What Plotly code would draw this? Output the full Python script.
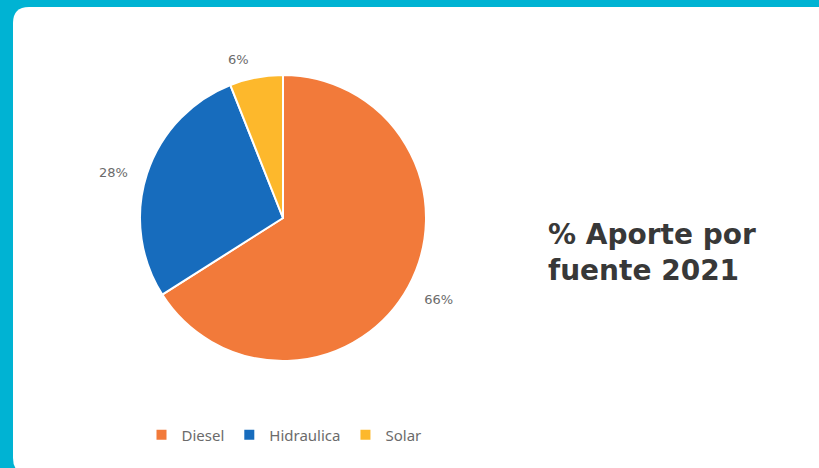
import plotly.graph_objects as go

categories = ["Diesel", "Hidraulica", "Solar"]
values = [66, 28, 6]
colors = ["#F27A3A", "#176CBD", "#FDB82C"]

W, H = 819, 468

def px(x):
    return x / W

def py(y):
    return 1 - y / H

CX, CY, R_PIE = 283, 218, 143
CX_L, CY_L, R_LBL = 282, 222, 158

fig = go.Figure()
# the pie itself
fig.add_trace(go.Pie(
    labels=categories,
    values=values,
    sort=False,
    direction="clockwise",
    rotation=0,
    marker=dict(colors=colors, line=dict(color="white", width=2)),
    textposition="none",
    hoverinfo="label+percent",
    domain=dict(x=[px(CX - R_PIE), px(CX + R_PIE)], y=[py(CY + R_PIE), py(CY - R_PIE)]),
    showlegend=True,
))
# transparent companion pie that carries the outside percentage labels
fig.add_trace(go.Pie(
    labels=categories,
    values=values,
    sort=False,
    direction="clockwise",
    rotation=0,
    marker=dict(colors=["rgba(0,0,0,0)"] * len(values), line=dict(width=0)),
    textposition="outside",
    texttemplate="%{percent:.0%}",
    textfont=dict(family="DejaVu Sans, sans-serif", size=13, color="#6b6b6b"),
    hoverinfo="skip",
    domain=dict(x=[px(CX_L - R_LBL), px(CX_L + R_LBL)], y=[py(CY_L + R_LBL), py(CY_L - R_LBL)]),
    showlegend=False,
))

# white rounded panel
L, T, R, B, r = 13, 7, 830, 474, 16
path = (
    f"M {px(L)},{py(T + r)} Q {px(L)},{py(T)} {px(L + r)},{py(T)} "
    f"L {px(R)},{py(T)} L {px(R)},{py(B)} L {px(L + r)},{py(B)} "
    f"Q {px(L)},{py(B)} {px(L)},{py(B - r)} Z"
)
fig.add_shape(type="path", path=path, xref="paper", yref="paper",
              fillcolor="white", line=dict(width=0), layer="below")

fig.add_annotation(
    text="<b>% Aporte por<br>fuente 2021</b>",
    x=px(546), y=py(216), xref="paper", yref="paper",
    xanchor="left", yanchor="top", align="left", showarrow=False,
    font=dict(family="DejaVu Sans, sans-serif", size=28, color="#383838"),
)

fig.update_layout(
    width=W, height=H,
    margin=dict(l=0, r=0, t=0, b=0),
    paper_bgcolor="#00B3D3",
    plot_bgcolor="#00B3D3",
    legend=dict(orientation="h", x=px(284), xanchor="center", y=py(435), yanchor="middle",
                font=dict(family="Noto Sans, sans-serif", size=15, color="#6b6b6b"),
                bgcolor="rgba(0,0,0,0)", itemwidth=30),
)

fig.write_html("out.html", config={"displayModeBar": False},
               post_script="document.body.style.margin='0';document.body.style.overflow='hidden';")
